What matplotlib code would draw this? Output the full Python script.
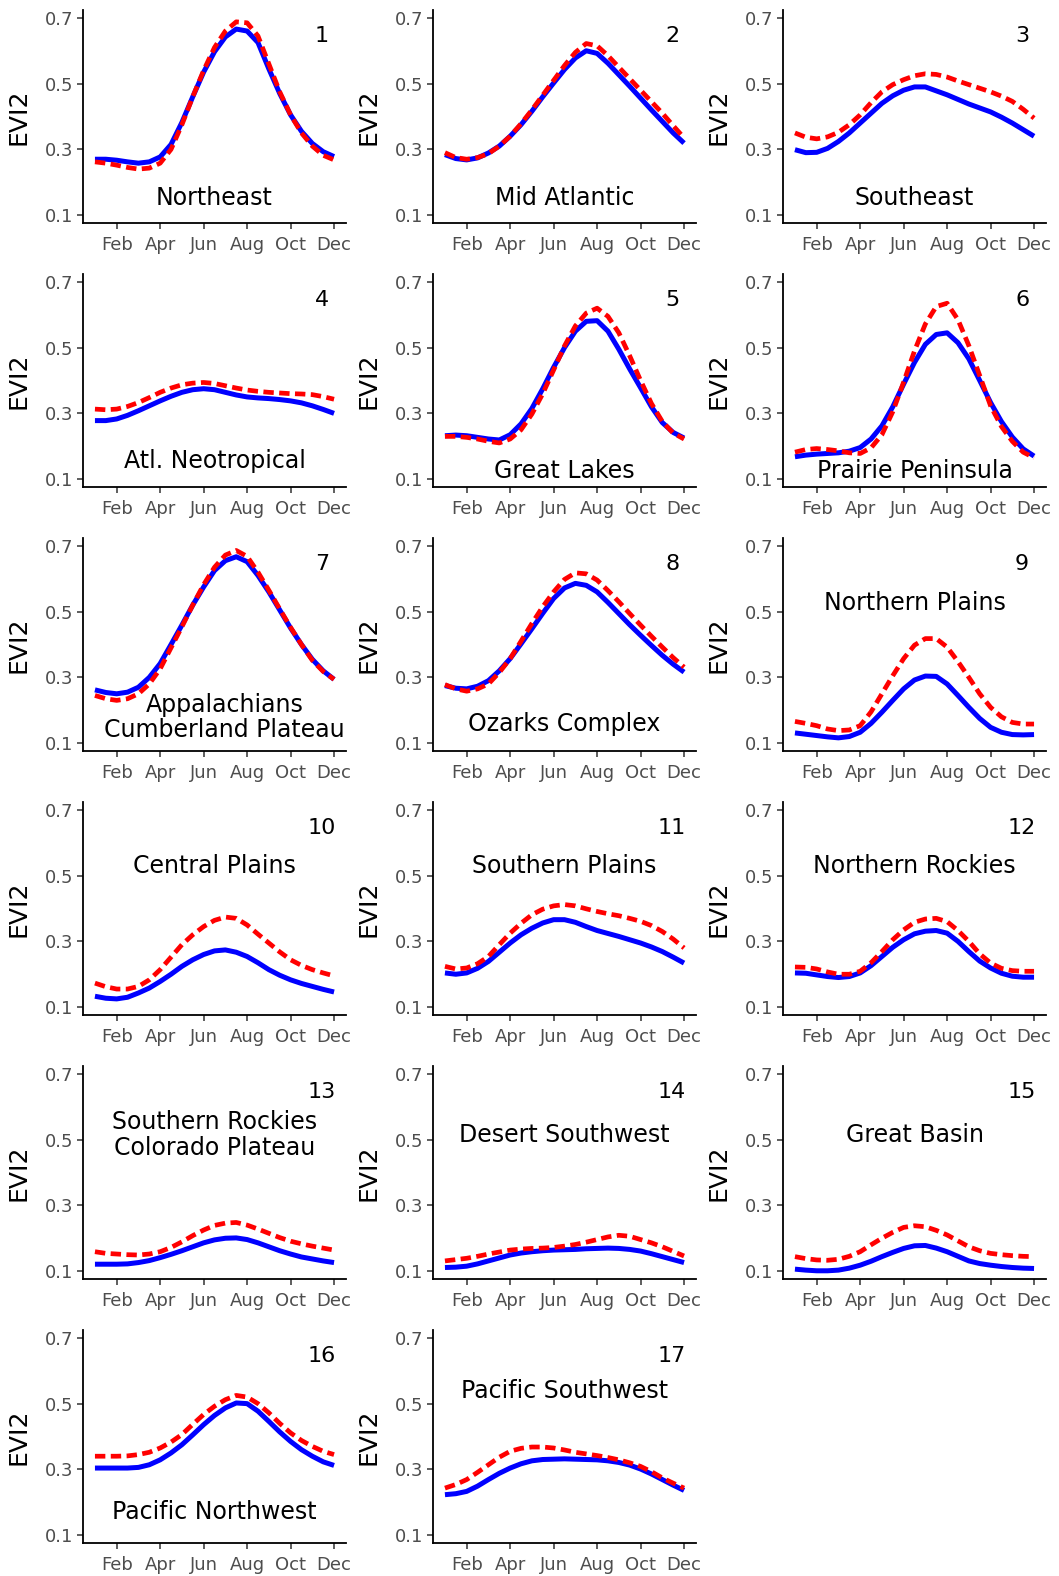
import matplotlib
matplotlib.use('Agg')
import matplotlib.pyplot as plt
import numpy as np

plt.rcParams['font.family'] = ['DejaVu Sans']

# half-month sampling, Jan .. Dec
months = np.arange(1, 12.5, 0.5)
month_ticks = [2, 4, 6, 8, 10, 12]
month_labels = ['Feb', 'Apr', 'Jun', 'Aug', 'Oct', 'Dec']
evi_ticks = [0.1, 0.3, 0.5, 0.7]

# solid (blue) and dashed (red) EVI2 curves per region
ne_solid = [0.270, 0.270, 0.267, 0.262, 0.258, 0.262, 0.277, 0.315, 0.382, 0.460, 0.535, 0.597, 0.642, 0.666, 0.660, 0.625, 0.545, 0.470, 0.405, 0.355, 0.318, 0.293, 0.278]
ne_dashed = [0.262, 0.258, 0.252, 0.245, 0.240, 0.243, 0.258, 0.300, 0.375, 0.460, 0.540, 0.610, 0.660, 0.688, 0.685, 0.645, 0.560, 0.475, 0.405, 0.350, 0.310, 0.282, 0.268]
ma_solid = [0.284, 0.272, 0.268, 0.274, 0.289, 0.310, 0.340, 0.375, 0.416, 0.460, 0.502, 0.543, 0.578, 0.600, 0.592, 0.562, 0.527, 0.492, 0.456, 0.420, 0.385, 0.350, 0.319]
ma_dashed = [0.290, 0.275, 0.270, 0.275, 0.287, 0.310, 0.340, 0.378, 0.420, 0.465, 0.510, 0.555, 0.595, 0.622, 0.615, 0.585, 0.550, 0.515, 0.480, 0.445, 0.410, 0.372, 0.335]
se_solid = [0.299, 0.290, 0.291, 0.303, 0.324, 0.350, 0.380, 0.410, 0.440, 0.463, 0.480, 0.490, 0.490, 0.478, 0.466, 0.452, 0.438, 0.426, 0.414, 0.398, 0.380, 0.360, 0.340]
se_dashed = [0.350, 0.337, 0.332, 0.338, 0.352, 0.375, 0.405, 0.442, 0.475, 0.497, 0.512, 0.524, 0.530, 0.528, 0.520, 0.508, 0.497, 0.486, 0.475, 0.462, 0.446, 0.422, 0.395]
an_solid = [0.278, 0.278, 0.283, 0.294, 0.308, 0.323, 0.338, 0.352, 0.364, 0.372, 0.375, 0.372, 0.364, 0.356, 0.350, 0.347, 0.345, 0.342, 0.338, 0.332, 0.323, 0.312, 0.300]
an_dashed = [0.313, 0.311, 0.313, 0.321, 0.333, 0.348, 0.364, 0.377, 0.387, 0.392, 0.394, 0.391, 0.384, 0.377, 0.371, 0.367, 0.364, 0.362, 0.360, 0.359, 0.357, 0.351, 0.343]
gl_solid = [0.232, 0.234, 0.232, 0.227, 0.222, 0.219, 0.235, 0.268, 0.315, 0.375, 0.440, 0.500, 0.550, 0.580, 0.582, 0.550, 0.495, 0.435, 0.378, 0.320, 0.272, 0.242, 0.225]
gl_dashed = [0.230, 0.230, 0.227, 0.222, 0.215, 0.210, 0.222, 0.250, 0.298, 0.360, 0.432, 0.505, 0.566, 0.605, 0.620, 0.595, 0.545, 0.475, 0.400, 0.330, 0.275, 0.240, 0.222]
pp_solid = [0.168, 0.173, 0.176, 0.178, 0.180, 0.185, 0.196, 0.222, 0.262, 0.320, 0.389, 0.455, 0.510, 0.540, 0.545, 0.515, 0.466, 0.400, 0.333, 0.275, 0.228, 0.192, 0.170]
pp_dashed = [0.182, 0.190, 0.193, 0.190, 0.186, 0.180, 0.178, 0.195, 0.235, 0.305, 0.395, 0.490, 0.572, 0.625, 0.635, 0.585, 0.506, 0.415, 0.323, 0.260, 0.215, 0.182, 0.165]
ap_solid = [0.262, 0.254, 0.250, 0.255, 0.270, 0.300, 0.342, 0.400, 0.459, 0.520, 0.575, 0.625, 0.655, 0.667, 0.652, 0.610, 0.560, 0.505, 0.450, 0.400, 0.355, 0.320, 0.294]
ap_dashed = [0.245, 0.235, 0.230, 0.235, 0.250, 0.280, 0.326, 0.390, 0.454, 0.520, 0.582, 0.635, 0.672, 0.686, 0.668, 0.620, 0.565, 0.508, 0.452, 0.400, 0.352, 0.318, 0.294]
oz_solid = [0.275, 0.267, 0.265, 0.273, 0.290, 0.320, 0.357, 0.402, 0.448, 0.495, 0.540, 0.572, 0.586, 0.580, 0.560, 0.528, 0.494, 0.460, 0.428, 0.397, 0.367, 0.340, 0.316]
oz_dashed = [0.278, 0.265, 0.258, 0.265, 0.280, 0.315, 0.357, 0.410, 0.464, 0.515, 0.560, 0.598, 0.618, 0.615, 0.596, 0.564, 0.530, 0.494, 0.459, 0.425, 0.392, 0.360, 0.331]
np_solid = [0.131, 0.127, 0.123, 0.119, 0.116, 0.120, 0.133, 0.160, 0.194, 0.230, 0.265, 0.292, 0.304, 0.303, 0.280, 0.245, 0.209, 0.175, 0.148, 0.133, 0.126, 0.125, 0.126]
np_dashed = [0.166, 0.160, 0.153, 0.143, 0.138, 0.140, 0.153, 0.195, 0.250, 0.305, 0.357, 0.398, 0.418, 0.418, 0.392, 0.348, 0.300, 0.250, 0.209, 0.180, 0.163, 0.158, 0.158]
cp_solid = [0.133, 0.127, 0.125, 0.130, 0.143, 0.158, 0.178, 0.200, 0.224, 0.244, 0.260, 0.271, 0.274, 0.267, 0.254, 0.235, 0.214, 0.197, 0.183, 0.172, 0.163, 0.154, 0.146]
cp_dashed = [0.173, 0.162, 0.155, 0.155, 0.163, 0.183, 0.214, 0.252, 0.290, 0.320, 0.345, 0.364, 0.374, 0.370, 0.350, 0.322, 0.295, 0.268, 0.244, 0.227, 0.214, 0.204, 0.195]
sp_solid = [0.204, 0.200, 0.204, 0.218, 0.239, 0.267, 0.295, 0.320, 0.340, 0.356, 0.366, 0.366, 0.358, 0.345, 0.333, 0.324, 0.315, 0.305, 0.295, 0.283, 0.269, 0.252, 0.234]
sp_dashed = [0.224, 0.216, 0.219, 0.232, 0.254, 0.290, 0.325, 0.355, 0.381, 0.398, 0.408, 0.412, 0.408, 0.399, 0.391, 0.384, 0.378, 0.370, 0.361, 0.348, 0.330, 0.307, 0.280]
nr_solid = [0.204, 0.203, 0.198, 0.193, 0.190, 0.193, 0.204, 0.226, 0.254, 0.282, 0.305, 0.323, 0.331, 0.333, 0.325, 0.300, 0.269, 0.240, 0.219, 0.203, 0.194, 0.191, 0.191]
nr_dashed = [0.222, 0.221, 0.216, 0.207, 0.200, 0.200, 0.209, 0.235, 0.269, 0.305, 0.335, 0.358, 0.368, 0.370, 0.360, 0.333, 0.300, 0.262, 0.234, 0.218, 0.211, 0.209, 0.209]
sr_solid = [0.121, 0.121, 0.121, 0.122, 0.126, 0.132, 0.141, 0.151, 0.162, 0.174, 0.186, 0.195, 0.200, 0.201, 0.196, 0.186, 0.174, 0.162, 0.152, 0.143, 0.137, 0.131, 0.126]
sr_dashed = [0.159, 0.154, 0.152, 0.150, 0.149, 0.152, 0.159, 0.172, 0.189, 0.208, 0.225, 0.239, 0.246, 0.248, 0.240, 0.228, 0.215, 0.202, 0.191, 0.183, 0.176, 0.170, 0.164]
ds_solid = [0.111, 0.112, 0.115, 0.122, 0.131, 0.140, 0.149, 0.155, 0.159, 0.162, 0.164, 0.165, 0.166, 0.168, 0.169, 0.170, 0.169, 0.166, 0.161, 0.153, 0.144, 0.135, 0.126]
ds_dashed = [0.131, 0.135, 0.139, 0.145, 0.152, 0.158, 0.164, 0.167, 0.169, 0.170, 0.172, 0.176, 0.181, 0.188, 0.196, 0.204, 0.209, 0.206, 0.196, 0.186, 0.174, 0.160, 0.146]
gb_solid = [0.106, 0.103, 0.101, 0.101, 0.103, 0.109, 0.118, 0.130, 0.144, 0.157, 0.169, 0.177, 0.178, 0.170, 0.159, 0.145, 0.131, 0.123, 0.118, 0.114, 0.111, 0.109, 0.108]
gb_dashed = [0.144, 0.138, 0.134, 0.133, 0.136, 0.145, 0.159, 0.180, 0.200, 0.218, 0.233, 0.238, 0.235, 0.224, 0.210, 0.192, 0.174, 0.162, 0.154, 0.150, 0.147, 0.145, 0.144]
pn_solid = [0.304, 0.304, 0.304, 0.304, 0.306, 0.314, 0.329, 0.350, 0.375, 0.405, 0.436, 0.464, 0.487, 0.502, 0.500, 0.477, 0.446, 0.414, 0.385, 0.360, 0.340, 0.323, 0.312]
pn_dashed = [0.340, 0.340, 0.340, 0.341, 0.345, 0.352, 0.365, 0.383, 0.406, 0.437, 0.467, 0.492, 0.512, 0.525, 0.520, 0.500, 0.472, 0.440, 0.411, 0.388, 0.370, 0.355, 0.345]
ps_solid = [0.223, 0.226, 0.233, 0.249, 0.269, 0.288, 0.304, 0.317, 0.326, 0.330, 0.331, 0.332, 0.331, 0.330, 0.329, 0.326, 0.321, 0.313, 0.301, 0.286, 0.269, 0.252, 0.236]
ps_dashed = [0.243, 0.254, 0.269, 0.291, 0.314, 0.337, 0.355, 0.364, 0.368, 0.368, 0.365, 0.359, 0.352, 0.347, 0.342, 0.336, 0.329, 0.320, 0.309, 0.293, 0.274, 0.258, 0.243]

region_names = ['Northeast', 'Mid Atlantic', 'Southeast', 'Atl. Neotropical', 'Great Lakes',
                'Prairie Peninsula', 'Appalachians\nCumberland Plateau', 'Ozarks Complex',
                'Northern Plains', 'Central Plains', 'Southern Plains', 'Northern Rockies',
                'Southern Rockies\nColorado Plateau', 'Desert Southwest', 'Great Basin',
                'Pacific Northwest', 'Pacific Southwest']
solid_series = [ne_solid, ma_solid, se_solid, an_solid, gl_solid, pp_solid, ap_solid, oz_solid,
                np_solid, cp_solid, sp_solid, nr_solid, sr_solid, ds_solid, gb_solid, pn_solid, ps_solid]
dashed_series = [ne_dashed, ma_dashed, se_dashed, an_dashed, gl_dashed, pp_dashed, ap_dashed, oz_dashed,
                 np_dashed, cp_dashed, sp_dashed, nr_dashed, sr_dashed, ds_dashed, gb_dashed, pn_dashed, ps_dashed]

# where each region name sits (month, EVI2)
name_pos = [(6.5, 0.152), (6.5, 0.152), (6.5, 0.152), (6.5, 0.155), (6.5, 0.124), (6.5, 0.124),
            (6.95, 0.178), (6.5, 0.157), (6.5, 0.526), (6.5, 0.529), (6.5, 0.529), (6.5, 0.529),
            (6.5, 0.514), (6.5, 0.514), (6.5, 0.514), (6.5, 0.17), (6.5, 0.539)]

W, H = 1059, 1576
fig = plt.figure(figsize=(W / 100, H / 100), dpi=100)

for i in range(len(region_names)):
    r, c = divmod(i, 3)
    left = (83 + 350 * c) / W
    top = 10 + 264 * r
    ax = fig.add_axes([left, 1 - (top + 213) / H, 263 / W, 213 / H])

    ax.plot(months, solid_series[i], color='#0000FF', lw=3.6, solid_capstyle='butt',
            solid_joinstyle='round')
    ax.plot(months, dashed_series[i], color='#FF0000', lw=3.4, dashes=(2.2, 1.15),
            dash_capstyle='butt', dash_joinstyle='round')

    ax.set_xlim(0.45, 12.55)
    ax.set_ylim(0.076, 0.724)
    ax.set_xticks(month_ticks)
    ax.set_xticklabels(month_labels)
    ax.set_yticks(evi_ticks)
    ax.set_yticklabels(['%.1f' % t for t in evi_ticks])
    ax.tick_params(axis='both', direction='out', length=4.2, width=1.1, color='#333333',
                   labelsize=13, labelcolor='#4D4D4D')
    ax.tick_params(axis='x', pad=5.5)
    ax.tick_params(axis='y', pad=3)

    for s in ['top', 'right']:
        ax.spines[s].set_visible(False)
    for s in ['left', 'bottom']:
        ax.spines[s].set_linewidth(1.3)
        ax.spines[s].set_color('black')

    ax.set_ylabel('EVI2', fontsize=18)
    ax.yaxis.set_label_coords(-0.198, 0.5)

    ax.text(11.45, 0.645, str(i + 1), fontsize=16, ha='center', va='center')
    lx, ly = name_pos[i]
    ax.text(lx, ly, region_names[i], fontsize=17, ha='center', va='center', linespacing=1.1)

fig.savefig('out.png', dpi=100)
